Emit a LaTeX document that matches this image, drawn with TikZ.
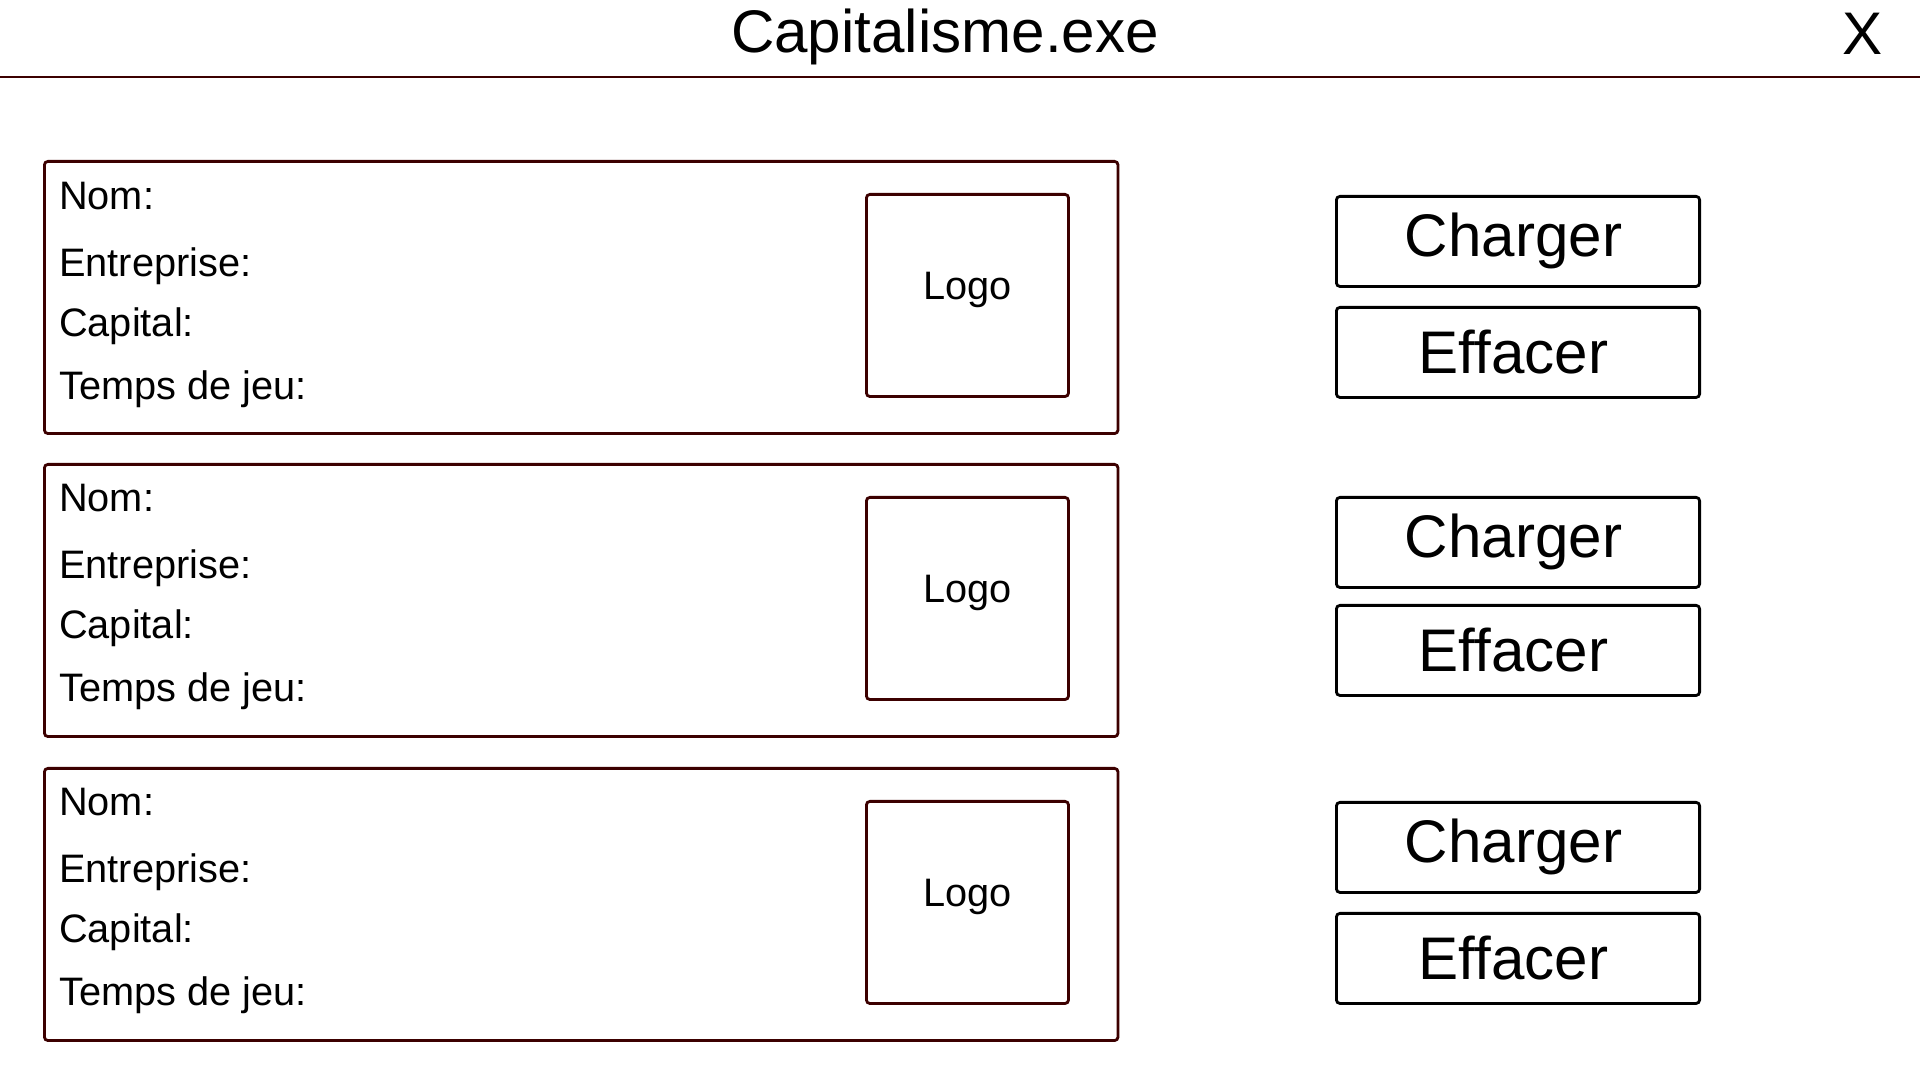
\documentclass[tikz,border=0pt]{standalone}
\usepackage{fontspec}
\setmainfont{Liberation Sans}
\definecolor{framered}{RGB}{60,0,0}
\newcommand{\bigtext}{\fontsize{17.1pt}{20pt}\selectfont}
\newcommand{\fieldtext}{\fontsize{11.3pt}{13.5pt}\selectfont}

\begin{document}
\begin{tikzpicture}[x=0.01cm, y=-0.01cm]
	\tikzset{card lines/.style={draw=framered, line width=0.8pt, rounded corners=1pt,
				anchor=north west, inner sep=0pt, minimum width=10.73cm, minimum height=2.72cm},
		logo lines/.style={draw=framered, line width=0.8pt, rounded corners=1pt,
				anchor=north west, inner sep=0pt, minimum size=2.02cm, font=\fieldtext,
				text height=0.72em, text depth=0.5em},
		button lines/.style={draw=black, line width=0.8pt, rounded corners=1pt,
				anchor=north west, inner sep=0pt, minimum width=3.63cm, minimum height=0.9cm,
				font=\bigtext, execute at begin node={\kern-0.09cm}},
		field/.style={anchor=base west, inner sep=0pt, font=\fieldtext}}
	\useasboundingbox (0, 0) rectangle (1920, 1080);
	% \draw (0, 0) grid (1920, 1080);

	% title bar
	\node[anchor=base, inner sep=0pt, font=\bigtext] (title) at (945, 53) {Capitalisme.exe};
	\node[anchor=base, inner sep=0pt, font=\bigtext] (close) at (1863, 55) {X};
	\draw[framered, line width=0.6pt] (0, 77) -- (1920, 77);

	% first save
	\node[card lines] (card1) at (43, 160) {};
	\node[logo lines] (logo1) at (865, 193) {Logo};
	\node[field] (name1) at (58.5, 210) {Nom:};
	\node[field] (firm1) at (58.5, 277) {Entreprise:};
	\node[field] (money1) at (58.5, 337) {Capital:};
	\node[field] (time1) at (58.5, 400) {Temps de jeu:};
	\node[button lines] (load1) at (1335, 195) {Charger};
	\node[button lines] (erase1) at (1335, 306) {Effacer};

	% second save
	\node[card lines] (card2) at (43, 463) {};
	\node[logo lines] (logo2) at (865, 496) {Logo};
	\node[field] (name2) at (58.5, 512) {Nom:};
	\node[field] (firm2) at (58.5, 579) {Entreprise:};
	\node[field] (money2) at (58.5, 639) {Capital:};
	\node[field] (time2) at (58.5, 702) {Temps de jeu:};
	\node[button lines] (load2) at (1335, 496) {Charger};
	\node[button lines] (erase2) at (1335, 604) {Effacer};

	% third save
	\node[card lines] (card3) at (43, 767) {};
	\node[logo lines] (logo3) at (865, 800) {Logo};
	\node[field] (name3) at (58.5, 816) {Nom:};
	\node[field] (firm3) at (58.5, 883) {Entreprise:};
	\node[field] (money3) at (58.5, 943) {Capital:};
	\node[field] (time3) at (58.5, 1006) {Temps de jeu:};
	\node[button lines] (load3) at (1335, 801) {Charger};
	\node[button lines] (erase3) at (1335, 912) {Effacer};
\end{tikzpicture}
\end{document}
